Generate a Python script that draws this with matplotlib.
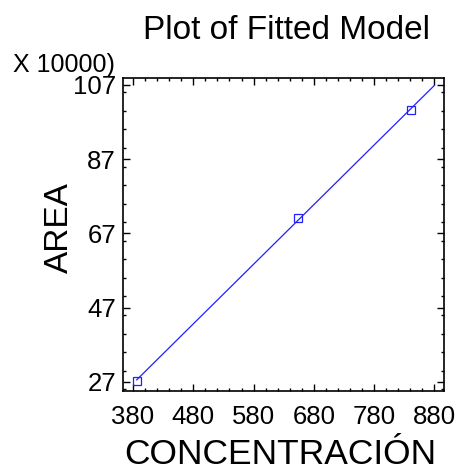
import matplotlib
matplotlib.use("Agg")
import matplotlib.pyplot as plt
import numpy as np
from matplotlib.ticker import MultipleLocator

plt.rcParams['font.family'] = ['Liberation Sans', 'DejaVu Sans']

# calibration points (area in units of 10000)
concentracion = np.array([386.1, 653.3, 841.0])
area = np.array([27.27, 71.06, 100.26])

xticks = [380, 480, 580, 680, 780, 880]
yticks = [27, 47, 67, 87, 107]

# least squares fit
slope, intercept = np.polyfit(concentracion, area, 1)
xfit = np.linspace(concentracion.min(), 880, 100)
yfit = slope * xfit + intercept

fig = plt.figure(figsize=(4.58, 4.71), dpi=100)
ax = fig.add_axes([0.2686, 0.1705, 0.7009, 0.6633])

ax.plot(xfit, yfit, color='#2020ff', lw=0.9)
ax.plot(concentracion, area, 's', mfc='none', mec='#2020ff', ms=5.5, mew=0.9)

ax.set_xlim(363.4, 896)
ax.set_ylim(24.6, 108.8)
ax.set_xticks(xticks)
ax.set_yticks(yticks)
ax.xaxis.set_minor_locator(MultipleLocator(20))
ax.yaxis.set_minor_locator(MultipleLocator(5))
ax.tick_params(which='both', direction='in', top=True, right=True, width=1)
ax.tick_params(which='major', length=5, labelsize=18.5)
ax.tick_params(which='minor', length=2.5)
ax.tick_params(axis='x', pad=10)
ax.tick_params(axis='y', pad=5)
for s in ax.spines.values():
    s.set_linewidth(1.2)

ax.set_xlabel('CONCENTRACIÓN', fontsize=25.5, va='baseline')
ax.xaxis.set_label_coords(0.49, -0.235)
ax.set_ylabel('AREA', fontsize=24, va='center')
ax.yaxis.set_label_coords(-0.199, 0.521)

fig.text(286.5 / 458, 1 - 39 / 471, 'Plot of Fitted Model', fontsize=24,
         ha='center', va='baseline')
fig.text(13 / 458, 1 - 72 / 471, 'X 10000)', fontsize=18,
         ha='left', va='baseline')

fig.savefig('out.png', dpi=100)
